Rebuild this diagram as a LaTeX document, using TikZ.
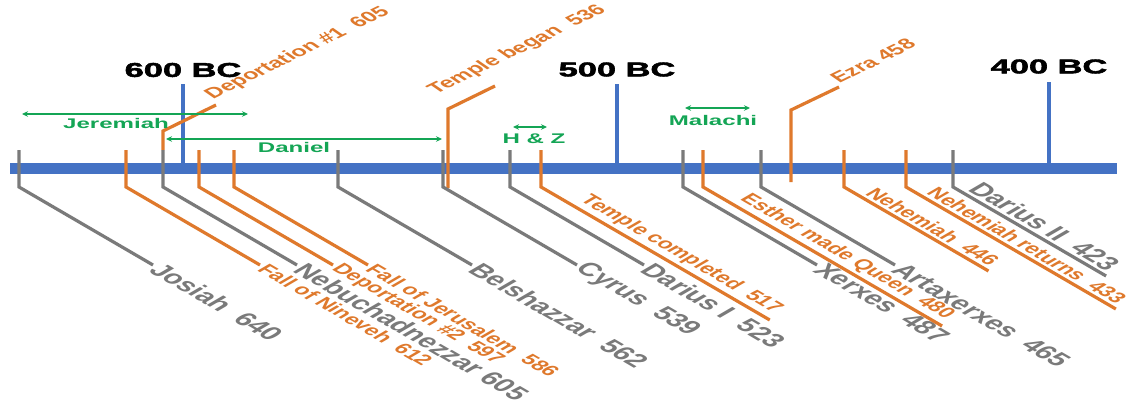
\documentclass[tikz,border=0pt]{standalone}
\usepackage{fontspec}
\setmainfont{Liberation Sans}
\newfontfamily\titlefont{Liberation Sans}[BoldFeatures={FakeBold=2}]
\usetikzlibrary{arrows.meta}
\definecolor{barblue}{RGB}{68,114,196}
\definecolor{lorange}{RGB}{223,121,44}
\definecolor{lgray}{RGB}{122,122,122}
\definecolor{lgreen}{RGB}{20,165,85}
\tikzset{
  gline/.style={draw=lgray, line width=3.2pt},
  oline/.style={draw=lorange, line width=3.2pt},
  bline/.style={draw=barblue, line width=3.2pt},
  span/.style={draw=lgreen, line width=1.8pt, {Stealth[length=6pt,width=5.5pt]}-{Stealth[length=6pt,width=5.5pt]}},
  lbl/.style={inner sep=2pt, xscale=1.72},
  gtxt/.style={lbl, text=lgray, font=\bfseries\fontsize{18.6}{21}\selectfont},
  otxt/.style={lbl, text=lorange, font=\bfseries\fontsize{14.6}{16}\selectfont},
  ptxt/.style={lbl, text=lgreen, font=\bfseries\fontsize{14}{16}\selectfont},
  ttxt/.style={lbl, text=black, font=\titlefont\bfseries\fontsize{20}{24}\selectfont},
  abv/.style={rotate=-45, anchor=south east, inner sep=3pt},
}
\begin{document}
\begin{tikzpicture}[x=1pt,y=-1pt]
\path[use as bounding box, fill=white] (0,0) rectangle (1132,404);

% timeline bar
\fill[barblue] (10,162.5) rectangle (1117,173.5);

% century markers
\draw[bline] (183,84) -- (183,163);
\draw[bline] (617,84) -- (617,163);
\draw[bline] (1049,82) -- (1049,163);
\node[ttxt] (c600) at (183,70) {600 BC};
\node[ttxt] (c500) at (617,69.5) {500 BC};
\node[ttxt] (c400) at (1049,66.5) {400 BC};

% upward events
\draw[oline] (163,150) coordinate (dep1t) -- (163,131) -- (216,105) coordinate (dep1e);
\node[otxt, rotate=40, anchor=south west] (dep1) at (dep1e) {Deportation \#1~~605};
\draw[oline] (448,188) -- (448,109) coordinate (tbb) -- (495,86) coordinate (tbe);
\node[otxt, rotate=40, anchor=south west] (tb) at (439,100) {Temple began~~536};
\draw[oline] (791,182) -- (791,110) -- (839,87) coordinate (ezrae);
\node[otxt, rotate=40, anchor=south west] (ezra) at (ezrae) {Ezra 458};

% downward events, label after line end
\foreach \x/\t in {126/{Fall of Nineveh~~612}, 199/{Deportation \#2~~597}, 234/{Fall of Jerusalem~~586}} {
  \draw[oline] (\x,150) coordinate (t\x) -- (\x,187) -- ++(134,78) coordinate (e\x);
  \node[otxt, rotate=-45, anchor=west] (l\x) at (e\x) {\t};
}
\foreach \x/\t in {19/{Josiah~~640}, 163/{Nebuchadnezzar 605}, 338/{Belshazzar~~562}, 443/{Cyrus~~539}, 510/{Darius I~~523}, 683/{Xerxes~~487}, 761/{Artaxerxes~~465}} {
  \draw[gline] (\x,150) coordinate (t\x) -- (\x,187) -- ++(134,78) coordinate (e\x);
  \node[gtxt, rotate=-45, anchor=west] (l\x) at (e\x) {\t};
}

% downward events, label above line
\foreach \x/\y/\t in {541/320/{Temple completed~~517}, 703/326/{Esther made Queen~~480}, 844/271/{Nehemiah~~446}, 906/309/{Nehemiah~returns~~433}} {
  \draw[oline] (\x,150) coordinate (t\x) -- (\x,187) -- ({\x+(\y-187)*1.72},\y) coordinate (e\x);
  \node[otxt, abv] (l\x) at (e\x) {\t};
}
\draw[gline] (953,150) coordinate (t953) -- (953,187) -- ({953+(276-187)*1.72},276) coordinate (e953);
\node[gtxt, abv] (l953) at (e953) {Darius II~~423};

% prophets
\coordinate (jer1) at (22,114); \coordinate (jer2) at (248,114);
\draw[span] (jer1) -- (jer2);
\node[ptxt] (jer) at (116,123) {Jeremiah};
\coordinate (dan1) at (166,139); \coordinate (dan2) at (442,139);
\draw[span] (dan1) -- (dan2);
\node[ptxt] (dan) at (294,147) {Daniel};
\coordinate (hz1) at (513,127); \coordinate (hz2) at (547,127);
\draw[span] (hz1) -- (hz2);
\node[ptxt] (hz) at (534,139) {H \& Z};
\coordinate (mal1) at (685,108); \coordinate (mal2) at (750,108);
\draw[span] (mal1) -- (mal2);
\node[ptxt] (mal) at (713,120.5) {Malachi};
\end{tikzpicture}
\end{document}
